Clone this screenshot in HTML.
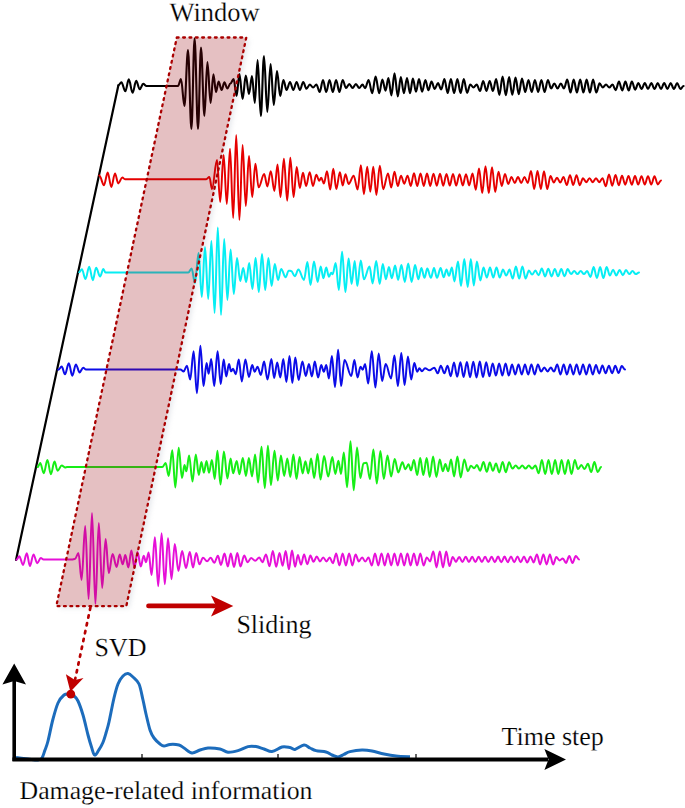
<!DOCTYPE html>
<html><head><meta charset="utf-8"><style>
html,body{margin:0;padding:0;background:#fff;}
body{width:685px;height:808px;overflow:hidden;}
svg{display:block;}
text{font-family:"Liberation Serif",serif;font-size:26px;fill:#000;text-rendering:geometricPrecision;stroke:#fff;stroke-width:0.2px;}
</style></head><body>
<svg width="685" height="808" viewBox="0 0 685 808">
<defs>
<filter id="blur" x="-20%" y="-5%" width="140%" height="110%"><feGaussianBlur stdDeviation="2.5"/></filter>
</defs>
<polygon points="176.8,37.5 246.3,37.5 126.3,606.2 56.3,606.2" fill="#a0a8b8" opacity="0.25" filter="url(#blur)" transform="translate(3,2)"/>
<polygon points="176.8,37.5 246.3,37.5 126.3,606.2 56.3,606.2" fill="#fff"/>
<line x1="16" y1="560" x2="118.4" y2="85.3" stroke="#000" stroke-width="2.2" stroke-linecap="round"/>
<path d="M118.4 85.3C119.5 85.3 120.3 82.3 121.4 82.3C122.8 82.3 123.9 91.3 125.3 91.3C126.6 91.3 127.5 79.4 128.8 79.4C130.2 79.4 131.2 92.8 132.6 92.8C133.9 92.8 134.9 80.9 136.2 80.9C137.5 80.9 138.4 89.3 139.7 89.3C141.0 89.3 141.9 83.8 143.2 83.8C144.4 83.8 145.3 86.0 146.5 86.0C146.5 86.0 146.5 86.0 146.5 86.0C158.0 86.0 166.5 86.0 178.0 86.0C178.0 86.0 178.0 86.0 178.0 86.0C179.1 86.0 179.9 79.0 181.0 79.0C182.2 79.0 183.2 106.0 184.4 106.0C185.7 106.0 186.7 50.0 188.0 50.0C189.2 50.0 190.2 129.0 191.4 129.0C192.6 129.0 193.4 38.4 194.6 38.4C195.8 38.4 196.8 129.0 198.0 129.0C199.1 129.0 199.9 47.6 201.0 47.6C202.2 47.6 203.2 116.0 204.4 116.0C205.5 116.0 206.3 62.0 207.4 62.0C208.6 62.0 209.4 103.0 210.6 103.0C211.6 103.0 212.4 74.4 213.4 74.4C214.3 74.4 215.1 92.0 216.0 92.0C216.9 92.0 217.7 81.6 218.6 81.6C219.7 81.6 220.5 90.0 221.6 90.0C222.6 90.0 223.4 82.4 224.4 82.4C225.5 82.4 226.3 88.5 227.4 88.5C228.5 88.5 229.3 83.5 230.4 83.5C231.6 83.5 232.4 79.0 233.6 79.0C234.7 79.0 235.5 96.0 236.6 96.0C237.6 96.0 238.4 74.0 239.4 74.0C240.6 74.0 241.4 99.0 242.6 99.0C243.8 99.0 244.6 75.6 245.8 75.6C247.0 75.6 247.8 94.0 249.0 94.0C250.1 94.0 250.9 76.0 252.0 76.0C253.0 76.0 253.8 103.0 254.8 103.0C255.8 103.0 256.6 60.0 257.6 60.0C258.8 60.0 259.6 116.0 260.8 116.0C262.0 116.0 262.8 56.0 264.0 56.0C265.2 56.0 266.1 112.0 267.3 112.0C268.5 112.0 269.4 64.0 270.6 64.0C271.8 64.0 272.6 105.0 273.8 105.0C275.0 105.0 275.8 71.0 277.0 71.0C278.2 71.0 279.0 96.0 280.2 96.0C281.4 96.0 282.2 80.0 283.4 80.0C284.6 80.0 285.4 90.0 286.6 90.0C287.8 90.0 288.8 82.0 290.0 82.0C291.2 82.0 292.1 90.0 293.3 90.0C294.5 90.0 295.4 82.0 296.6 82.0C297.8 82.0 298.7 90.0 299.9 90.0C301.1 90.0 302.0 82.0 303.2 82.0C304.4 82.0 305.3 88.8 306.5 88.8C307.7 88.8 308.6 84.5 309.8 84.5C311.0 84.5 311.9 87.5 313.1 87.5C314.3 87.5 315.2 84.5 316.4 84.5C317.6 84.5 318.5 92.0 319.7 92.0C320.9 92.0 321.8 80.0 323.0 80.0C324.2 80.0 325.0 92.0 326.2 92.0C327.5 92.0 328.3 80.0 329.5 80.0C330.7 80.0 331.6 92.0 332.8 92.0C334.0 92.0 334.9 80.0 336.1 80.0C337.3 80.0 338.2 92.0 339.4 92.0C340.6 92.0 341.5 80.0 342.7 80.0C343.9 80.0 344.8 88.0 346.0 88.0C347.2 88.0 348.1 84.0 349.3 84.0C350.5 84.0 351.4 88.0 352.6 88.0C353.8 88.0 354.7 84.0 355.9 84.0C357.1 84.0 358.0 88.0 359.2 88.0C360.4 88.0 361.3 84.6 362.5 84.6C363.4 84.6 364.2 88.2 365.1 88.2C366.4 88.2 367.3 80.0 368.6 80.0C369.9 80.0 370.9 93.3 372.2 93.3C373.4 93.3 374.4 76.5 375.6 76.5C376.9 76.5 377.9 93.3 379.2 93.3C380.4 93.3 381.2 79.5 382.4 79.5C383.5 79.5 384.4 90.8 385.5 90.8C386.6 90.8 387.3 78.0 388.4 78.0C389.5 78.0 390.3 95.4 391.4 95.4C392.5 95.4 393.4 73.4 394.5 73.4C395.7 73.4 396.6 96.4 397.8 96.4C398.9 96.4 399.7 77.0 400.8 77.0C401.9 77.0 402.8 93.3 403.9 93.3C405.0 93.3 405.9 78.0 407.0 78.0C408.1 78.0 408.9 93.3 410.0 93.3C411.1 93.3 411.8 78.5 412.9 78.5C414.0 78.5 414.9 91.8 416.0 91.8C417.1 91.8 417.9 79.0 419.0 79.0C420.1 79.0 421.0 91.8 422.1 91.8C423.3 91.8 424.2 80.0 425.4 80.0C426.5 80.0 427.3 90.3 428.4 90.3C429.5 90.3 430.4 81.6 431.5 81.6C432.7 81.6 433.6 89.0 434.7 89.0C435.9 89.0 436.8 83.0 438.0 83.0C439.1 83.0 440.0 89.4 441.2 89.4C442.4 89.4 443.3 79.0 444.4 79.0C445.6 79.0 446.5 93.0 447.7 93.0C448.8 93.0 449.7 79.0 450.9 79.0C452.1 79.0 452.9 93.0 454.1 93.0C455.3 93.0 456.2 79.0 457.4 79.0C458.5 79.0 459.4 93.0 460.6 93.0C461.8 93.0 462.6 79.0 463.8 79.0C465.0 79.0 465.9 92.9 467.1 92.9C468.2 92.9 469.1 84.5 470.3 84.5C471.5 84.5 472.3 87.5 473.5 87.5C474.7 87.5 475.6 84.5 476.7 84.5C477.9 84.5 478.8 91.0 480.0 91.0C481.2 91.0 482.0 81.0 483.2 81.0C484.4 81.0 485.3 91.0 486.4 91.0C487.6 91.0 488.5 81.0 489.7 81.0C490.9 81.0 491.7 91.0 492.9 91.0C494.1 91.0 495.0 79.0 496.1 79.0C497.3 79.0 498.2 94.9 499.4 94.9C500.6 94.9 501.4 76.6 502.6 76.6C503.8 76.6 504.7 95.3 505.8 95.3C507.0 95.3 507.9 77.0 509.1 77.0C510.2 77.0 511.1 94.7 512.3 94.7C513.5 94.7 514.4 77.5 515.5 77.5C516.7 77.5 517.6 94.2 518.8 94.2C519.9 94.2 520.8 78.5 522.0 78.5C523.2 78.5 524.1 92.0 525.2 92.0C526.4 92.0 527.3 80.0 528.5 80.0C529.6 80.0 530.5 92.0 531.7 92.0C532.9 92.0 533.7 80.0 534.9 80.0C536.1 80.0 537.0 92.0 538.2 92.0C539.3 92.0 540.2 80.0 541.4 80.0C542.6 80.0 543.4 92.0 544.6 92.0C545.8 92.0 546.7 80.0 547.9 80.0C549.0 80.0 549.9 88.5 551.1 88.5C552.3 88.5 553.1 83.5 554.3 83.5C555.5 83.5 556.4 88.5 557.6 88.5C558.7 88.5 559.6 83.5 560.8 83.5C562.0 83.5 562.8 88.5 564.0 88.5C565.2 88.5 566.1 79.5 567.2 79.5C568.4 79.5 569.3 92.5 570.5 92.5C571.7 92.5 572.5 79.5 573.7 79.5C574.9 79.5 575.8 92.5 576.9 92.5C578.1 92.5 579.0 79.5 580.2 79.5C581.4 79.5 582.2 92.5 583.4 92.5C584.6 92.5 585.5 79.5 586.6 79.5C587.8 79.5 588.7 92.5 589.9 92.5C591.0 92.5 591.9 79.5 593.1 79.5C594.3 79.5 595.2 92.5 596.3 92.5C597.5 92.5 598.4 83.4 599.6 83.4C600.7 83.4 601.6 87.5 602.8 87.5C604.0 87.5 604.9 84.5 606.0 84.5C607.2 84.5 608.1 87.5 609.3 87.5C610.4 87.5 611.3 84.5 612.5 84.5C613.7 84.5 614.5 90.1 615.7 90.1C616.9 90.1 617.8 81.5 619.0 81.5C620.1 81.5 621.0 90.5 622.2 90.5C623.4 90.5 624.2 81.5 625.4 81.5C626.6 81.5 627.5 90.5 628.7 90.5C629.8 90.5 630.7 81.5 631.9 81.5C633.1 81.5 633.9 89.7 635.1 89.7C636.3 89.7 637.2 83.0 638.4 83.0C639.5 83.0 640.4 89.0 641.6 89.0C642.8 89.0 643.6 83.0 644.8 83.0C646.0 83.0 646.9 89.0 648.0 89.0C649.2 89.0 650.1 83.0 651.3 83.0C652.5 83.0 653.3 89.0 654.5 89.0C655.7 89.0 656.6 83.0 657.7 83.0C658.9 83.0 659.8 89.0 661.0 89.0C662.2 89.0 663.0 83.0 664.2 83.0C665.4 83.0 666.3 89.0 667.4 89.0C668.6 89.0 669.5 83.0 670.7 83.0C671.8 83.0 672.7 89.0 673.9 89.0C675.1 89.0 676.0 83.0 677.1 83.0C678.3 83.0 679.2 89.0 680.4 89.0C681.5 89.0 682.4 86.0 683.6 86.0" stroke="#000000" stroke-width="2.10" fill="none" stroke-linejoin="round" stroke-linecap="round"/>
<path d="M99.3 175.5C101.0 175.5 102.3 185.2 104.0 185.2C105.3 185.2 106.4 172.4 107.7 172.4C109.0 172.4 110.0 187.0 111.3 187.0C112.6 187.0 113.7 173.5 115.0 173.5C116.2 173.5 117.1 183.4 118.3 183.4C119.8 183.4 120.8 177.5 122.3 177.5C123.3 177.5 124.0 179.2 125.0 179.2C126.2 179.2 127.1 179.2 128.2 179.2C129.4 179.2 130.3 179.2 131.5 179.2C132.7 179.2 133.6 179.2 134.7 179.2C135.9 179.2 136.8 179.2 138.0 179.2C139.2 179.2 140.0 179.2 141.2 179.2C142.4 179.2 143.3 179.2 144.5 179.2C145.7 179.2 146.5 179.2 147.7 179.2C148.9 179.2 149.8 179.2 151.0 179.2C152.2 179.2 153.0 179.2 154.2 179.2C155.4 179.2 156.3 179.2 157.5 179.2C158.6 179.2 159.5 179.2 160.7 179.2C161.9 179.2 162.8 179.2 164.0 179.2C165.1 179.2 166.0 179.2 167.2 179.2C168.4 179.2 169.3 179.2 170.4 179.2C171.6 179.2 172.5 179.2 173.7 179.2C174.9 179.2 175.8 179.2 176.9 179.2C178.1 179.2 179.0 179.2 180.2 179.2C181.4 179.2 182.2 179.2 183.4 179.2C184.6 179.2 185.5 179.2 186.7 179.2C187.9 179.2 188.7 179.2 189.9 179.2C191.1 179.2 192.0 179.2 193.2 179.2C194.4 179.2 195.2 179.2 196.4 179.2C197.6 179.2 198.5 179.2 199.7 179.2C200.8 179.2 201.7 179.2 202.9 179.2C204.1 179.2 205.0 179.2 206.2 179.2C207.3 179.2 208.2 177.0 209.4 177.0C210.3 177.0 211.1 189.0 212.0 189.0C213.8 189.0 215.2 160.0 217.0 160.0C218.2 160.0 219.0 202.0 220.2 202.0C221.4 202.0 222.4 155.0 223.6 155.0C224.8 155.0 225.6 204.0 226.8 204.0C228.0 204.0 228.8 148.6 230.0 148.6C231.2 148.6 232.0 218.0 233.2 218.0C234.3 218.0 235.1 135.0 236.2 135.0C237.4 135.0 238.2 220.0 239.4 220.0C240.6 220.0 241.4 145.0 242.6 145.0C243.8 145.0 244.6 206.0 245.8 206.0C247.0 206.0 247.8 156.0 249.0 156.0C250.2 156.0 251.0 197.0 252.2 197.0C253.4 197.0 254.2 163.8 255.4 163.8C256.6 163.8 257.4 187.3 258.6 187.3C260.6 187.3 262.2 174.0 264.2 174.0C265.3 174.0 266.2 186.4 267.3 186.4C268.6 186.4 269.5 171.1 270.8 171.1C272.1 171.1 273.1 191.0 274.4 191.0C275.5 191.0 276.4 164.4 277.5 164.4C278.6 164.4 279.4 197.1 280.5 197.1C281.7 197.1 282.7 158.8 283.9 158.8C285.1 158.8 286.0 200.7 287.2 200.7C288.3 200.7 289.2 157.8 290.3 157.8C291.5 157.8 292.4 197.1 293.6 197.1C294.7 197.1 295.6 167.0 296.7 167.0C297.8 167.0 298.7 187.9 299.8 187.9C301.0 187.9 301.8 172.7 303.0 172.7C304.1 172.7 305.0 186.0 306.1 186.0C307.4 186.0 308.4 172.2 309.7 172.2C310.9 172.2 311.8 186.0 313.0 186.0C314.2 186.0 315.1 174.7 316.3 174.7C317.4 174.7 318.1 180.7 319.2 180.7C319.9 180.7 320.5 177.8 321.2 177.8C322.2 177.8 322.9 183.4 323.9 183.4C325.0 183.4 325.9 171.2 327.0 171.2C328.2 171.2 329.0 189.5 330.2 189.5C331.3 189.5 332.2 168.6 333.3 168.6C334.4 168.6 335.2 189.1 336.3 189.1C337.6 189.1 338.6 172.3 339.9 172.3C340.9 172.3 341.7 185.6 342.7 185.6C343.7 185.6 344.5 174.3 345.5 174.3C346.6 174.3 347.5 184.0 348.6 184.0C350.5 184.0 351.8 175.8 353.7 175.8C355.1 175.8 356.2 189.6 357.6 189.6C358.8 189.6 359.7 165.1 360.9 165.1C362.0 165.1 362.8 194.2 363.9 194.2C365.1 194.2 366.0 166.7 367.2 166.7C368.3 166.7 369.2 191.8 370.3 191.8C371.4 191.8 372.2 166.8 373.3 166.8C374.4 166.8 375.3 194.9 376.4 194.9C377.6 194.9 378.6 165.7 379.8 165.7C381.0 165.7 382.0 189.2 383.2 189.2C384.9 189.2 386.3 173.4 388.0 173.4C389.2 173.4 390.1 187.6 391.2 187.6C392.4 187.6 393.3 171.6 394.5 171.6C395.7 171.6 396.6 186.1 397.8 186.1C398.9 186.1 399.8 175.6 401.0 175.6C402.2 175.6 403.1 183.7 404.2 183.7C405.4 183.7 406.3 175.7 407.5 175.7C408.7 175.7 409.6 185.9 410.8 185.9C411.9 185.9 412.8 173.2 414.0 173.2C415.2 173.2 416.1 186.1 417.2 186.1C418.4 186.1 419.3 173.4 420.5 173.4C421.7 173.4 422.6 186.0 423.8 186.0C424.9 186.0 425.8 173.5 427.0 173.5C428.2 173.5 429.1 185.9 430.2 185.9C431.4 185.9 432.3 173.6 433.5 173.6C434.7 173.6 435.6 185.8 436.8 185.8C437.9 185.8 438.8 173.7 440.0 173.7C441.2 173.7 442.1 185.7 443.2 185.7C444.4 185.7 445.3 173.9 446.5 173.9C447.7 173.9 448.6 185.6 449.8 185.6C450.9 185.6 451.8 174.0 453.0 174.0C454.2 174.0 455.1 185.6 456.2 185.6C457.4 185.6 458.3 174.1 459.5 174.1C460.7 174.1 461.6 185.5 462.8 185.5C463.9 185.5 464.8 174.2 466.0 174.2C467.2 174.2 468.1 185.4 469.2 185.4C470.4 185.4 471.3 173.5 472.5 173.5C473.7 173.5 474.6 189.7 475.8 189.7C476.9 189.7 477.8 168.4 479.0 168.4C480.2 168.4 481.1 193.0 482.2 193.0C483.4 193.0 484.3 166.1 485.5 166.1C486.7 166.1 487.6 193.1 488.8 193.1C489.9 193.1 490.8 167.2 492.0 167.2C493.2 167.2 494.1 192.0 495.2 192.0C496.4 192.0 497.3 171.7 498.5 171.7C499.7 171.7 500.6 185.9 501.8 185.9C502.9 185.9 503.8 173.9 505.0 173.9C506.2 173.9 507.1 184.1 508.2 184.1C509.4 184.1 510.3 177.0 511.5 177.0C512.7 177.0 513.6 183.0 514.8 183.0C515.9 183.0 516.8 177.0 518.0 177.0C519.2 177.0 520.1 183.0 521.2 183.0C522.4 183.0 523.3 177.0 524.5 177.0C525.7 177.0 526.6 183.0 527.8 183.0C528.9 183.0 529.8 171.0 531.0 171.0C532.2 171.0 533.1 189.0 534.2 189.0C535.4 189.0 536.3 171.0 537.5 171.0C538.7 171.0 539.6 189.0 540.8 189.0C541.9 189.0 542.8 171.1 544.0 171.1C545.2 171.1 546.1 189.1 547.2 189.1C548.4 189.1 549.3 176.0 550.5 176.0C551.7 176.0 552.6 182.6 553.8 182.6C554.9 182.6 555.8 177.6 557.0 177.6C558.2 177.6 559.1 182.6 560.2 182.6C561.4 182.6 562.3 177.0 563.5 177.0C564.7 177.0 565.6 185.1 566.8 185.1C567.9 185.1 568.8 175.1 570.0 175.1C571.2 175.1 572.1 185.1 573.2 185.1C574.4 185.1 575.3 175.2 576.5 175.2C577.7 175.2 578.6 185.2 579.8 185.2C580.9 185.2 581.8 178.2 583.0 178.2C584.2 178.2 585.1 182.2 586.2 182.2C587.4 182.2 588.3 178.2 589.5 178.2C590.7 178.2 591.6 182.2 592.8 182.2C593.9 182.2 594.8 178.2 596.0 178.2C597.2 178.2 598.1 182.2 599.2 182.2C600.4 182.2 601.3 178.2 602.5 178.2C603.7 178.2 604.6 186.2 605.8 186.2C606.9 186.2 607.8 174.5 609.0 174.5C610.2 174.5 611.1 185.7 612.2 185.7C613.4 185.7 614.3 175.0 615.5 175.0C616.7 175.0 617.6 185.3 618.8 185.3C619.9 185.3 620.8 175.8 622.0 175.8C623.2 175.8 624.1 184.7 625.2 184.7C626.4 184.7 627.3 175.9 628.5 175.9C629.7 175.9 630.6 184.7 631.8 184.7C632.9 184.7 633.8 176.0 635.0 176.0C636.2 176.0 637.1 184.6 638.2 184.6C639.4 184.6 640.3 176.1 641.5 176.1C642.7 176.1 643.6 184.6 644.8 184.6C645.9 184.6 646.8 176.2 648.0 176.2C649.2 176.2 650.1 184.5 651.2 184.5C652.4 184.5 653.3 176.3 654.5 176.3C655.7 176.3 656.6 184.4 657.8 184.4C658.9 184.4 659.8 180.4 661.0 180.4" stroke="#e60000" stroke-width="1.95" fill="none" stroke-linejoin="round" stroke-linecap="round"/>
<path d="M79.2 272.2C80.2 272.2 80.9 269.2 81.9 269.2C83.2 269.2 84.2 279.1 85.5 279.1C86.8 279.1 87.9 266.7 89.2 266.7C90.5 266.7 91.5 280.2 92.8 280.2C94.0 280.2 94.9 267.8 96.1 267.8C97.6 267.8 98.6 276.4 100.1 276.4C101.3 276.4 102.2 268.9 103.4 268.9C104.2 268.9 104.7 272.6 105.5 272.6C106.7 272.6 107.6 272.6 108.8 272.6C110.0 272.6 110.9 272.6 112.1 272.6C113.3 272.6 114.2 272.6 115.4 272.6C116.6 272.6 117.5 272.6 118.7 272.6C120.0 272.6 120.9 272.6 122.1 272.6C123.3 272.6 124.2 272.6 125.4 272.6C126.6 272.6 127.5 272.6 128.7 272.6C129.9 272.6 130.8 272.6 132.0 272.6C133.2 272.6 134.1 272.6 135.3 272.6C136.5 272.6 137.4 272.6 138.6 272.6C139.8 272.6 140.7 272.6 141.9 272.6C143.1 272.6 144.0 272.6 145.2 272.6C146.4 272.6 147.3 272.6 148.6 272.6C149.8 272.6 150.7 272.6 151.9 272.6C153.1 272.6 154.0 272.6 155.2 272.6C156.4 272.6 157.3 272.6 158.5 272.6C159.7 272.6 160.6 272.6 161.8 272.6C163.0 272.6 163.9 272.6 165.1 272.6C166.3 272.6 167.2 272.6 168.4 272.6C169.6 272.6 170.5 272.6 171.7 272.6C172.9 272.6 173.8 272.6 175.0 272.6C176.2 272.6 177.1 272.6 178.4 272.6C179.6 272.6 180.5 272.6 181.7 272.6C182.9 272.6 183.8 272.6 185.0 272.6C186.2 272.6 187.1 272.6 188.3 272.6C189.5 272.6 190.4 268.5 191.6 268.5C192.8 268.5 193.8 283.0 195.0 283.0C196.3 283.0 197.3 253.0 198.6 253.0C199.8 253.0 200.6 297.0 201.8 297.0C203.0 297.0 203.8 247.0 205.0 247.0C206.2 247.0 207.0 299.0 208.2 299.0C209.4 299.0 210.2 241.0 211.4 241.0C212.6 241.0 213.4 313.0 214.6 313.0C215.8 313.0 216.6 227.6 217.8 227.6C219.0 227.6 219.8 315.0 221.0 315.0C222.2 315.0 223.0 239.0 224.2 239.0C225.4 239.0 226.2 300.0 227.4 300.0C228.6 300.0 229.4 249.6 230.6 249.6C231.8 249.6 232.6 294.0 233.8 294.0C235.0 294.0 235.8 258.0 237.0 258.0C238.2 258.0 239.0 281.0 240.2 281.0C241.3 281.0 242.1 268.0 243.2 268.0C244.3 268.0 245.1 282.0 246.2 282.0C247.3 282.0 248.1 263.0 249.2 263.0C250.4 263.0 251.2 289.0 252.4 289.0C253.6 289.0 254.4 258.0 255.6 258.0C256.8 258.0 257.6 292.0 258.8 292.0C260.0 292.0 260.8 254.0 262.0 254.0C263.2 254.0 264.0 290.0 265.2 290.0C266.4 290.0 267.2 258.0 268.4 258.0C269.6 258.0 270.4 286.0 271.6 286.0C272.8 286.0 273.6 264.0 274.8 264.0C276.0 264.0 276.8 280.0 278.0 280.0C279.2 280.0 280.0 269.0 281.2 269.0C282.8 269.0 284.0 277.3 285.6 277.3C286.7 277.3 287.6 270.7 288.7 270.7C289.6 270.7 290.3 271.0 291.2 271.0C292.5 271.0 293.5 276.3 294.8 276.3C296.1 276.3 297.1 269.6 298.4 269.6C300.4 269.6 302.0 279.9 304.0 279.9C305.2 279.9 306.2 262.0 307.4 262.0C308.5 262.0 309.4 285.0 310.5 285.0C311.8 285.0 312.7 261.5 314.0 261.5C315.3 261.5 316.3 281.9 317.6 281.9C318.7 281.9 319.6 266.6 320.7 266.6C321.7 266.6 322.4 278.3 323.4 278.3C324.4 278.3 325.2 267.6 326.2 267.6C327.2 267.6 328.0 276.8 329.0 276.8C329.8 276.8 330.3 272.7 331.1 272.7C331.6 272.7 332.1 274.2 332.6 274.2C333.7 274.2 334.6 263.0 335.7 263.0C336.8 263.0 337.7 290.1 338.8 290.1C340.0 290.1 340.9 251.8 342.1 251.8C343.3 251.8 344.2 292.1 345.4 292.1C346.6 292.1 347.4 258.4 348.6 258.4C349.7 258.4 350.5 283.9 351.6 283.9C352.7 283.9 353.6 261.0 354.7 261.0C355.6 261.0 356.4 286.0 357.3 286.0C358.6 286.0 359.5 260.4 360.8 260.4C361.9 260.4 362.8 279.3 363.9 279.3C365.9 279.3 367.5 266.6 369.5 266.6C370.6 266.6 371.5 283.4 372.6 283.4C373.9 283.4 374.9 261.0 376.2 261.0C377.5 261.0 378.4 283.9 379.7 283.9C380.8 283.9 381.7 264.0 382.8 264.0C383.9 264.0 384.8 279.3 385.9 279.3C387.0 279.3 387.8 267.1 388.9 267.1C390.0 267.1 390.7 278.3 391.8 278.3C393.0 278.3 393.9 265.5 395.1 265.5C396.2 265.5 397.0 279.9 398.1 279.9C399.3 279.9 400.2 265.0 401.4 265.0C402.6 265.0 403.6 281.9 404.8 281.9C406.0 281.9 407.0 263.5 408.2 263.5C409.4 263.5 410.4 281.9 411.6 281.9C412.9 281.9 413.8 265.0 415.1 265.0C416.3 265.0 417.1 279.3 418.3 279.3C419.4 279.3 420.3 268.1 421.4 268.1C422.5 268.1 423.4 277.8 424.5 277.8C425.5 277.8 426.3 268.6 427.3 268.6C428.6 268.6 429.6 277.8 430.9 277.8C432.0 277.8 432.9 268.1 434.0 268.1C435.1 268.1 435.9 277.8 437.0 277.8C438.3 277.8 439.3 268.1 440.6 268.1C441.7 268.1 442.6 277.3 443.7 277.3C444.7 277.3 445.5 269.6 446.5 269.6C447.4 269.6 448.1 275.8 449.0 275.8C450.1 275.8 450.8 267.6 451.9 267.6C452.8 267.6 453.5 281.4 454.4 281.4C455.7 281.4 456.7 261.5 458.0 261.5C459.1 261.5 459.9 286.0 461.0 286.0C462.2 286.0 463.1 258.9 464.3 258.9C465.5 258.9 466.5 287.0 467.7 287.0C468.8 287.0 469.7 258.9 470.8 258.9C471.9 258.9 472.7 285.5 473.8 285.5C474.9 285.5 475.8 261.5 476.9 261.5C478.1 261.5 479.1 280.4 480.3 280.4C481.5 280.4 482.4 267.6 483.5 267.6C484.7 267.6 485.6 277.6 486.8 277.6C488.0 277.6 488.8 267.6 490.0 267.6C491.2 267.6 492.1 277.6 493.3 277.6C494.4 277.6 495.3 267.6 496.5 267.6C497.7 267.6 498.6 277.6 499.7 277.6C500.9 277.6 501.8 269.6 503.0 269.6C504.2 269.6 505.0 275.6 506.2 275.6C507.4 275.6 508.3 269.6 509.4 269.6C510.6 269.6 511.5 278.6 512.7 278.6C513.9 278.6 514.7 266.6 515.9 266.6C517.1 266.6 518.0 278.6 519.2 278.6C520.3 278.6 521.2 266.6 522.4 266.6C523.6 266.6 524.5 278.6 525.6 278.6C526.8 278.6 527.7 270.6 528.9 270.6C530.1 270.6 530.9 274.6 532.1 274.6C533.3 274.6 534.2 270.6 535.4 270.6C536.5 270.6 537.4 275.2 538.6 275.2C539.8 275.2 540.7 268.6 541.8 268.6C543.0 268.6 543.9 276.5 545.1 276.5C546.3 276.5 547.1 268.7 548.3 268.7C549.5 268.7 550.4 276.4 551.6 276.4C552.7 276.4 553.6 268.9 554.8 268.9C556.0 268.9 556.9 276.3 558.0 276.3C559.2 276.3 560.1 269.0 561.3 269.0C562.4 269.0 563.3 276.2 564.5 276.2C565.7 276.2 566.6 269.1 567.7 269.1C568.9 269.1 569.8 274.1 571.0 274.1C572.2 274.1 573.0 271.1 574.2 271.1C575.4 271.1 576.3 274.1 577.5 274.1C578.6 274.1 579.5 271.1 580.7 271.1C581.9 271.1 582.8 274.1 583.9 274.1C585.1 274.1 586.0 271.1 587.2 271.1C588.4 271.1 589.2 276.9 590.4 276.9C591.6 276.9 592.5 267.1 593.7 267.1C594.8 267.1 595.7 278.1 596.9 278.1C598.1 278.1 599.0 267.1 600.1 267.1C601.3 267.1 602.2 278.1 603.4 278.1C604.6 278.1 605.4 267.1 606.6 267.1C607.8 267.1 608.7 275.6 609.9 275.6C611.0 275.6 611.9 269.7 613.1 269.7C614.3 269.7 615.1 275.4 616.3 275.4C617.5 275.4 618.4 269.9 619.6 269.9C620.7 269.9 621.6 275.2 622.8 275.2C624.0 275.2 624.9 270.1 626.0 270.1C627.2 270.1 628.1 274.1 629.3 274.1C630.5 274.1 631.3 271.1 632.5 271.1C633.7 271.1 634.6 274.1 635.8 274.1C636.9 274.1 637.8 272.6 639.0 272.6" stroke="#06eef3" stroke-width="2.00" fill="none" stroke-linejoin="round" stroke-linecap="round"/>
<path d="M58.2 369.8C59.5 369.8 60.4 366.6 61.7 366.6C62.9 366.6 63.8 374.3 65.0 374.3C66.4 374.3 67.4 363.3 68.8 363.3C70.1 363.3 71.0 375.7 72.3 375.7C73.6 375.7 74.6 364.4 75.9 364.4C77.2 364.4 78.3 372.4 79.6 372.4C80.9 372.4 81.9 367.7 83.2 367.7C84.2 367.7 85.0 369.5 86.0 369.5C87.2 369.5 88.1 369.5 89.3 369.5C90.4 369.5 91.3 369.5 92.5 369.5C93.7 369.5 94.6 369.5 95.8 369.5C96.9 369.5 97.8 369.5 99.0 369.5C100.2 369.5 101.1 369.5 102.3 369.5C103.5 369.5 104.3 369.5 105.5 369.5C106.7 369.5 107.6 369.5 108.8 369.5C110.0 369.5 110.9 369.5 112.0 369.5C113.2 369.5 114.1 369.5 115.3 369.5C116.5 369.5 117.4 369.5 118.5 369.5C119.7 369.5 120.6 369.5 121.8 369.5C123.0 369.5 123.9 369.5 125.1 369.5C126.2 369.5 127.1 369.5 128.3 369.5C129.5 369.5 130.4 369.5 131.6 369.5C132.8 369.5 133.6 369.5 134.8 369.5C136.0 369.5 136.9 369.5 138.1 369.5C139.3 369.5 140.1 369.5 141.3 369.5C142.5 369.5 143.4 369.5 144.6 369.5C145.8 369.5 146.7 369.5 147.8 369.5C149.0 369.5 149.9 369.5 151.1 369.5C152.3 369.5 153.2 369.5 154.4 369.5C155.5 369.5 156.4 369.5 157.6 369.5C158.8 369.5 159.7 369.5 160.9 369.5C162.0 369.5 162.9 369.5 164.1 369.5C165.3 369.5 166.2 369.5 167.4 369.5C168.6 369.5 169.4 369.5 170.6 369.5C171.8 369.5 172.7 369.5 173.9 369.5C175.1 369.5 176.0 369.5 177.1 369.5C178.3 369.5 179.2 369.5 180.4 369.5C181.6 369.5 182.5 371.4 183.6 371.4C184.8 371.4 185.7 365.7 186.9 365.7C188.1 365.7 189.0 379.5 190.2 379.5C191.4 379.5 192.4 351.3 193.6 351.3C194.8 351.3 195.7 393.2 196.9 393.2C198.2 393.2 199.1 345.7 200.4 345.7C201.5 345.7 202.4 386.1 203.5 386.1C204.6 386.1 205.5 363.1 206.6 363.1C207.3 363.1 207.9 373.8 208.6 373.8C209.5 373.8 210.3 359.0 211.2 359.0C212.3 359.0 213.1 386.1 214.2 386.1C215.4 386.1 216.4 351.3 217.6 351.3C218.7 351.3 219.6 384.0 220.7 384.0C221.8 384.0 222.6 359.5 223.7 359.5C224.6 359.5 225.3 376.4 226.2 376.4C227.2 376.4 228.0 364.1 229.0 364.1C229.8 364.1 230.3 371.3 231.1 371.3C231.8 371.3 232.4 368.7 233.1 368.7C234.0 368.7 234.8 374.3 235.7 374.3C236.8 374.3 237.7 359.5 238.8 359.5C239.9 359.5 240.7 381.5 241.8 381.5C243.1 381.5 244.1 359.5 245.4 359.5C246.7 359.5 247.6 376.9 248.9 376.9C250.1 376.9 251.0 365.1 252.2 365.1C253.1 365.1 253.8 371.8 254.7 371.8C255.7 371.8 256.5 366.7 257.5 366.7C258.7 366.7 259.6 374.9 260.8 374.9C262.0 374.9 262.9 361.6 264.1 361.6C265.3 361.6 266.3 379.5 267.5 379.5C268.9 379.5 270.0 359.0 271.4 359.0C272.4 359.0 273.1 377.9 274.1 377.9C275.2 377.9 276.1 362.6 277.2 362.6C278.3 362.6 279.2 377.4 280.3 377.4C281.4 377.4 282.2 359.0 283.3 359.0C284.4 359.0 285.3 382.0 286.4 382.0C287.5 382.0 288.4 356.0 289.5 356.0C290.5 356.0 291.3 383.0 292.3 383.0C293.4 383.0 294.2 357.5 295.3 357.5C296.5 357.5 297.4 380.0 298.6 380.0C300.0 380.0 301.0 361.6 302.4 361.6C303.6 361.6 304.6 375.9 305.8 375.9C306.9 375.9 307.8 364.1 308.9 364.1C310.0 364.1 310.8 376.4 311.9 376.4C313.0 376.4 313.7 361.6 314.8 361.6C316.0 361.6 316.9 377.4 318.1 377.4C319.2 377.4 320.1 365.1 321.2 365.1C322.1 365.1 322.9 371.8 323.8 371.8C324.7 371.8 325.4 365.1 326.3 365.1C327.2 365.1 328.0 378.4 328.9 378.4C330.0 378.4 330.8 356.0 331.9 356.0C333.0 356.0 333.9 387.1 335.0 387.1C336.1 387.1 337.0 349.8 338.1 349.8C339.2 349.8 340.0 386.1 341.1 386.1C342.3 386.1 343.3 360.0 344.5 360.0C347.0 360.0 348.8 375.9 351.3 375.9C352.4 375.9 353.3 360.0 354.4 360.0C355.5 360.0 356.4 377.4 357.5 377.4C358.6 377.4 359.4 366.7 360.5 366.7C361.3 366.7 361.8 369.7 362.6 369.7C363.5 369.7 364.2 364.1 365.1 364.1C366.2 364.1 367.1 383.5 368.2 383.5C369.5 383.5 370.5 351.3 371.8 351.3C373.1 351.3 374.1 387.6 375.4 387.6C376.6 387.6 377.5 353.4 378.7 353.4C379.9 353.4 380.9 381.0 382.1 381.0C383.4 381.0 384.4 364.1 385.7 364.1C387.7 364.1 389.1 378.4 391.1 378.4C392.3 378.4 393.2 355.4 394.4 355.4C395.7 355.4 396.6 386.1 397.9 386.1C399.1 386.1 400.1 352.9 401.3 352.9C402.5 352.9 403.4 385.1 404.6 385.1C405.8 385.1 406.7 356.5 407.9 356.5C409.1 356.5 410.0 379.5 411.2 379.5C412.3 379.5 413.2 363.1 414.3 363.1C415.4 363.1 416.2 371.8 417.3 371.8C418.1 371.8 418.6 368.2 419.4 368.2C420.3 368.2 421.0 371.3 421.9 371.3C423.0 371.3 423.9 368.2 425.0 368.2C426.6 368.2 427.9 370.3 429.5 370.3C431.2 370.3 432.5 367.7 434.2 367.7C435.5 367.7 436.5 373.3 437.8 373.3C438.9 373.3 439.7 365.7 440.8 365.7C442.1 365.7 443.1 373.3 444.4 373.3C445.5 373.3 446.4 365.7 447.5 365.7C448.7 365.7 449.6 376.2 450.7 376.2C451.9 376.2 452.8 362.4 454.0 362.4C455.1 362.4 456.0 376.7 457.2 376.7C458.4 376.7 459.2 362.2 460.4 362.2C461.6 362.2 462.5 377.0 463.6 377.0C464.8 377.0 465.7 361.9 466.9 361.9C468.0 361.9 468.9 377.2 470.1 377.2C471.3 377.2 472.1 361.7 473.3 361.7C474.5 361.7 475.4 377.4 476.5 377.4C477.7 377.4 478.6 361.6 479.8 361.6C480.9 361.6 481.8 377.1 483.0 377.1C484.2 377.1 485.1 362.2 486.2 362.2C487.4 362.2 488.3 376.3 489.5 376.3C490.6 376.3 491.5 363.5 492.7 363.5C493.9 363.5 494.7 375.5 495.9 375.5C497.1 375.5 498.0 363.5 499.1 363.5C500.3 363.5 501.2 375.5 502.4 375.5C503.5 375.5 504.4 363.5 505.6 363.5C506.8 363.5 507.6 375.5 508.8 375.5C510.0 375.5 510.9 364.5 512.0 364.5C513.2 364.5 514.1 374.5 515.3 374.5C516.4 374.5 517.3 364.5 518.5 364.5C519.7 364.5 520.6 374.5 521.7 374.5C522.9 374.5 523.8 364.5 525.0 364.5C526.1 364.5 527.0 374.5 528.2 374.5C529.4 374.5 530.2 364.5 531.4 364.5C532.6 364.5 533.5 374.5 534.6 374.5C535.8 374.5 536.7 364.5 537.9 364.5C539.0 364.5 539.9 371.5 541.1 371.5C542.3 371.5 543.1 367.5 544.3 367.5C545.5 367.5 546.4 371.5 547.5 371.5C548.7 371.5 549.6 367.5 550.8 367.5C551.9 367.5 552.8 371.5 554.0 371.5C555.2 371.5 556.1 364.5 557.2 364.5C558.4 364.5 559.3 374.5 560.5 374.5C561.6 374.5 562.5 364.5 563.7 364.5C564.9 364.5 565.7 374.5 566.9 374.5C568.1 374.5 569.0 364.5 570.1 364.5C571.3 364.5 572.2 374.5 573.4 374.5C574.5 374.5 575.4 364.5 576.6 364.5C577.8 364.5 578.6 374.5 579.8 374.5C581.0 374.5 581.9 364.5 583.0 364.5C584.2 364.5 585.1 374.5 586.3 374.5C587.4 374.5 588.3 364.5 589.5 364.5C590.7 364.5 591.6 374.5 592.7 374.5C593.9 374.5 594.8 365.0 596.0 365.0C597.1 365.0 598.0 373.5 599.2 373.5C600.4 373.5 601.2 365.6 602.4 365.6C603.6 365.6 604.5 373.3 605.6 373.3C606.8 373.3 607.7 365.7 608.9 365.7C610.0 365.7 610.9 373.2 612.1 373.2C613.3 373.2 614.1 365.8 615.3 365.8C616.5 365.8 617.4 373.1 618.5 373.1C619.7 373.1 620.6 365.9 621.8 365.9C622.9 365.9 623.8 369.5 625.0 369.5" stroke="#0c0ce8" stroke-width="2.00" fill="none" stroke-linejoin="round" stroke-linecap="round"/>
<path d="M37.6 467.1C38.5 467.1 39.3 463.0 40.2 463.0C41.5 463.0 42.5 473.2 43.8 473.2C45.1 473.2 46.1 459.9 47.4 459.9C48.7 459.9 49.6 474.2 50.9 474.2C52.2 474.2 53.2 461.5 54.5 461.5C55.6 461.5 56.5 470.7 57.6 470.7C59.1 470.7 60.2 465.5 61.7 465.5C63.0 465.5 64.0 467.4 65.3 467.4C65.9 467.4 66.4 467.1 67.0 467.1C68.2 467.1 69.1 467.1 70.3 467.1C71.5 467.1 72.4 467.1 73.6 467.1C74.8 467.1 75.7 467.1 76.9 467.1C78.1 467.1 78.9 467.1 80.1 467.1C81.3 467.1 82.2 467.1 83.4 467.1C84.6 467.1 85.5 467.1 86.7 467.1C87.9 467.1 88.8 467.1 90.0 467.1C91.2 467.1 92.1 467.1 93.3 467.1C94.5 467.1 95.4 467.1 96.6 467.1C97.8 467.1 98.7 467.1 99.9 467.1C101.1 467.1 102.0 467.1 103.2 467.1C104.4 467.1 105.2 467.1 106.4 467.1C107.6 467.1 108.5 467.1 109.7 467.1C110.9 467.1 111.8 467.1 113.0 467.1C114.2 467.1 115.1 467.1 116.3 467.1C117.5 467.1 118.4 467.1 119.6 467.1C120.8 467.1 121.7 467.1 122.9 467.1C124.1 467.1 125.0 467.1 126.2 467.1C127.4 467.1 128.2 467.1 129.4 467.1C130.6 467.1 131.5 467.1 132.7 467.1C133.9 467.1 134.8 467.1 136.0 467.1C137.2 467.1 138.1 467.1 139.3 467.1C140.5 467.1 141.4 467.1 142.6 467.1C143.8 467.1 144.7 467.1 145.9 467.1C147.1 467.1 148.0 467.1 149.2 467.1C150.4 467.1 151.3 467.1 152.5 467.1C153.7 467.1 154.5 467.1 155.7 467.1C156.9 467.1 157.8 467.1 159.0 467.1C160.2 467.1 161.1 467.1 162.3 467.1C163.5 467.1 164.4 463.1 165.6 463.1C166.7 463.1 167.6 475.9 168.7 475.9C170.0 475.9 171.0 450.3 172.3 450.3C173.4 450.3 174.2 487.6 175.3 487.6C176.5 487.6 177.5 447.8 178.7 447.8C179.9 447.8 180.8 477.9 182.0 477.9C182.9 477.9 183.6 465.1 184.5 465.1C185.2 465.1 185.7 471.3 186.4 471.3C187.4 471.3 188.1 455.4 189.1 455.4C190.3 455.4 191.3 481.5 192.5 481.5C193.7 481.5 194.6 454.4 195.8 454.4C196.9 454.4 197.7 474.9 198.8 474.9C199.7 474.9 200.5 462.1 201.4 462.1C202.3 462.1 203.0 472.8 203.9 472.8C204.8 472.8 205.6 461.1 206.5 461.1C207.4 461.1 208.1 472.8 209.0 472.8C210.1 472.8 210.8 460.0 211.9 460.0C212.9 460.0 213.7 478.9 214.7 478.9C215.7 478.9 216.4 450.8 217.4 450.8C218.5 450.8 219.4 484.6 220.5 484.6C221.7 484.6 222.7 451.4 223.9 451.4C225.2 451.4 226.1 478.4 227.4 478.4C228.6 478.4 229.4 458.5 230.6 458.5C231.5 458.5 232.2 473.3 233.1 473.3C234.4 473.3 235.4 461.1 236.7 461.1C237.7 461.1 238.4 474.3 239.4 474.3C240.6 474.3 241.6 458.0 242.8 458.0C243.9 458.0 244.8 475.9 245.9 475.9C247.0 475.9 247.8 458.0 248.9 458.0C250.0 458.0 250.9 476.4 252.0 476.4C253.1 476.4 254.0 454.4 255.1 454.4C256.2 454.4 257.0 482.5 258.1 482.5C259.3 482.5 260.3 446.8 261.5 446.8C262.7 446.8 263.6 488.1 264.8 488.1C265.9 488.1 266.8 445.7 267.9 445.7C269.0 445.7 269.8 485.1 270.9 485.1C272.2 485.1 273.2 450.8 274.5 450.8C275.7 450.8 276.6 480.5 277.8 480.5C278.9 480.5 279.8 455.4 280.9 455.4C282.1 455.4 283.0 475.9 284.2 475.9C285.3 475.9 286.2 458.5 287.3 458.5C288.4 458.5 289.2 476.9 290.3 476.9C291.4 476.9 292.3 454.4 293.4 454.4C294.5 454.4 295.4 479.0 296.5 479.0C297.6 479.0 298.5 457.1 299.6 457.1C300.7 457.1 301.5 473.4 302.6 473.4C303.6 473.4 304.4 461.2 305.4 461.2C306.5 461.2 307.2 473.4 308.3 473.4C309.3 473.4 310.1 458.6 311.1 458.6C312.2 458.6 313.1 478.0 314.2 478.0C315.4 478.0 316.3 454.0 317.5 454.0C318.6 454.0 319.4 479.6 320.5 479.6C321.8 479.6 322.8 456.1 324.1 456.1C325.6 456.1 326.7 476.5 328.2 476.5C329.7 476.5 330.8 457.1 332.3 457.1C333.4 457.1 334.2 473.9 335.3 473.9C336.4 473.9 337.3 460.7 338.4 460.7C339.3 460.7 340.1 473.9 341.0 473.9C342.0 473.9 342.8 452.5 343.8 452.5C345.0 452.5 345.9 487.2 347.1 487.2C348.3 487.2 349.3 441.2 350.5 441.2C351.7 441.2 352.5 490.3 353.7 490.3C354.9 490.3 355.8 447.4 357.0 447.4C358.2 447.4 359.2 478.0 360.4 478.0C361.5 478.0 362.4 463.2 363.5 463.2C364.6 463.2 365.5 462.7 366.6 462.7C367.8 462.7 368.8 479.0 370.0 479.0C371.2 479.0 372.2 449.4 373.4 449.4C374.6 449.4 375.6 483.6 376.8 483.6C378.1 483.6 379.1 451.0 380.4 451.0C381.6 451.0 382.6 479.0 383.8 479.0C385.1 479.0 386.2 455.5 387.5 455.5C388.8 455.5 389.8 476.5 391.1 476.5C392.4 476.5 393.4 459.1 394.7 459.1C396.0 459.1 397.0 472.4 398.3 472.4C399.8 472.4 400.9 462.2 402.4 462.2C403.5 462.2 404.3 469.3 405.4 469.3C406.5 469.3 407.4 464.2 408.5 464.2C409.4 464.2 410.1 470.4 411.0 470.4C412.1 470.4 412.8 460.1 413.9 460.1C415.1 460.1 416.0 475.0 417.2 475.0C418.3 475.0 419.1 458.1 420.2 458.1C421.3 458.1 422.2 475.0 423.3 475.0C424.5 475.0 425.5 458.1 426.7 458.1C427.8 458.1 428.6 476.9 429.7 476.9C430.9 476.9 431.9 456.5 433.1 456.5C434.3 456.5 435.2 476.9 436.4 476.9C437.6 476.9 438.6 459.5 439.8 459.5C440.9 459.5 441.7 471.3 442.8 471.3C443.7 471.3 444.5 464.1 445.4 464.1C446.4 464.1 447.2 471.3 448.2 471.3C449.2 471.3 450.0 459.5 451.0 459.5C452.1 459.5 453.0 476.4 454.1 476.4C455.3 476.4 456.2 456.5 457.4 456.5C458.6 456.5 459.5 477.4 460.7 477.4C462.0 477.4 463.0 459.5 464.3 459.5C465.6 459.5 466.6 471.3 467.9 471.3C469.0 471.3 469.8 465.7 470.9 465.7C472.0 465.7 472.9 468.2 474.0 468.2C475.1 468.2 475.9 465.1 477.0 465.1C478.1 465.1 479.0 470.8 480.1 470.8C481.3 470.8 482.3 462.1 483.5 462.1C484.7 462.1 485.6 471.8 486.8 471.8C487.9 471.8 488.7 462.6 489.8 462.6C490.9 462.6 491.8 470.8 492.9 470.8C494.0 470.8 494.9 463.6 496.0 463.6C497.2 463.6 498.1 472.4 499.3 472.4C500.5 472.4 501.4 461.9 502.6 461.9C503.8 461.9 504.6 472.2 505.8 472.2C507.0 472.2 507.9 462.3 509.1 462.3C510.3 462.3 511.2 468.6 512.4 468.6C513.6 468.6 514.5 465.6 515.7 465.6C516.9 465.6 517.8 468.6 519.0 468.6C520.2 468.6 521.1 465.6 522.2 465.6C523.4 465.6 524.3 468.6 525.5 468.6C526.7 468.6 527.6 465.6 528.8 465.6C530.0 465.6 530.9 468.6 532.1 468.6C533.3 468.6 534.2 465.6 535.4 465.6C536.6 465.6 537.5 473.2 538.7 473.2C539.9 473.2 540.7 460.1 541.9 460.1C543.1 460.1 544.0 474.1 545.2 474.1C546.4 474.1 547.3 460.1 548.5 460.1C549.7 460.1 550.6 474.1 551.8 474.1C553.0 474.1 553.9 460.1 555.1 460.1C556.3 460.1 557.1 474.1 558.3 474.1C559.5 474.1 560.4 460.1 561.6 460.1C562.8 460.1 563.7 474.1 564.9 474.1C566.1 474.1 567.0 460.1 568.2 460.1C569.4 460.1 570.3 474.1 571.5 474.1C572.7 474.1 573.6 460.1 574.8 460.1C575.9 460.1 576.8 469.1 578.0 469.1C579.2 469.1 580.1 465.1 581.3 465.1C582.5 465.1 583.4 469.1 584.6 469.1C585.8 469.1 586.7 463.8 587.9 463.8C589.1 463.8 590.0 472.1 591.2 472.1C592.4 472.1 593.2 462.1 594.4 462.1C595.6 462.1 596.5 472.1 597.7 472.1C598.9 472.1 599.8 467.1 601.0 467.1" stroke="#16ee16" stroke-width="2.00" fill="none" stroke-linejoin="round" stroke-linecap="round"/>
<path d="M16.4 559.8C17.5 559.8 18.2 556.2 19.3 556.2C20.6 556.2 21.7 565.0 23.0 565.0C24.4 565.0 25.4 553.3 26.8 553.3C27.9 553.3 28.8 566.1 29.9 566.1C31.2 566.1 32.2 554.4 33.5 554.4C34.8 554.4 35.9 563.2 37.2 563.2C38.5 563.2 39.5 558.0 40.8 558.0C41.8 558.0 42.5 559.4 43.5 559.4C44.6 559.4 45.5 559.4 46.6 559.4C47.8 559.4 48.7 559.4 49.8 559.4C50.9 559.4 51.8 559.4 53.0 559.4C54.1 559.4 55.0 559.4 56.1 559.4C57.2 559.4 58.1 559.4 59.2 559.4C60.4 559.4 61.3 559.4 62.4 559.4C63.5 559.4 64.4 559.4 65.5 559.4C66.7 559.4 67.6 559.4 68.7 559.4C69.8 559.4 70.7 559.4 71.8 559.4C73.0 559.4 73.9 559.0 75.0 559.0C76.2 559.0 77.2 553.0 78.4 553.0C79.6 553.0 80.4 580.0 81.6 580.0C82.9 580.0 83.9 526.0 85.2 526.0C86.4 526.0 87.4 599.0 88.6 599.0C89.8 599.0 90.8 513.0 92.0 513.0C93.2 513.0 94.2 604.0 95.4 604.0C96.6 604.0 97.6 523.0 98.8 523.0C100.0 523.0 101.0 588.0 102.2 588.0C103.4 588.0 104.4 539.0 105.6 539.0C106.8 539.0 107.6 573.0 108.8 573.0C110.2 573.0 111.2 554.1 112.6 554.1C114.1 554.1 115.1 566.9 116.6 566.9C117.7 566.9 118.6 554.6 119.7 554.6C120.8 554.6 121.6 564.3 122.7 564.3C123.6 564.3 124.4 555.1 125.3 555.1C126.4 555.1 127.3 567.4 128.4 567.4C129.5 567.4 130.3 550.5 131.4 550.5C132.5 550.5 133.4 567.9 134.5 567.9C135.6 567.9 136.4 552.1 137.5 552.1C138.7 552.1 139.6 566.4 140.8 566.4C141.9 566.4 142.6 555.7 143.7 555.7C144.5 555.7 145.2 562.3 146.0 562.3C146.9 562.3 147.7 552.6 148.6 552.6C149.7 552.6 150.5 575.1 151.6 575.1C152.8 575.1 153.7 537.3 154.9 537.3C156.1 537.3 157.0 586.3 158.2 586.3C159.4 586.3 160.4 533.2 161.6 533.2C162.8 533.2 163.6 584.3 164.8 584.3C166.0 584.3 166.8 538.3 168.0 538.3C169.3 538.3 170.2 579.2 171.5 579.2C172.7 579.2 173.6 543.9 174.8 543.9C176.1 543.9 177.1 571.0 178.4 571.0C179.7 571.0 180.8 551.1 182.1 551.1C183.5 551.1 184.6 567.9 186.0 567.9C187.4 567.9 188.4 552.1 189.8 552.1C191.0 552.1 191.8 567.4 193.0 567.4C194.2 567.4 195.0 553.1 196.2 553.1C197.4 553.1 198.3 564.3 199.5 564.3C200.8 564.3 201.7 557.7 203.0 557.7C204.5 557.7 205.6 561.3 207.1 561.3C208.4 561.3 209.4 557.7 210.7 557.7C212.0 557.7 213.0 562.8 214.3 562.8C215.6 562.8 216.6 555.7 217.9 555.7C219.0 555.7 219.8 564.9 220.9 564.9C222.2 564.9 223.2 553.6 224.5 553.6C225.7 553.6 226.6 566.4 227.8 566.4C228.9 566.4 229.7 553.6 230.8 553.6C232.0 553.6 232.8 566.9 234.0 566.9C235.2 566.9 236.1 553.1 237.3 553.1C238.5 553.1 239.3 566.4 240.5 566.4C241.8 566.4 242.9 555.6 244.2 555.6C245.4 555.6 246.4 562.2 247.6 562.2C248.9 562.2 249.8 558.1 251.1 558.1C252.6 558.1 253.7 560.7 255.2 560.7C256.7 560.7 257.8 557.6 259.3 557.6C260.4 557.6 261.3 562.2 262.4 562.2C263.7 562.2 264.7 554.5 266.0 554.5C267.3 554.5 268.2 566.3 269.5 566.3C270.7 566.3 271.6 551.0 272.8 551.0C274.0 551.0 275.0 566.8 276.2 566.8C277.4 566.8 278.3 553.0 279.5 553.0C280.6 553.0 281.5 565.8 282.6 565.8C283.7 565.8 284.6 551.0 285.7 551.0C286.9 551.0 287.7 569.3 288.9 569.3C290.0 569.3 290.9 550.4 292.0 550.4C293.1 550.4 294.0 566.8 295.1 566.8C296.1 566.8 296.9 555.0 297.9 555.0C299.0 555.0 299.9 564.7 301.0 564.7C302.1 564.7 303.0 554.5 304.1 554.5C305.3 554.5 306.1 564.3 307.3 564.3C308.4 564.3 309.3 555.5 310.4 555.5C311.5 555.5 312.4 561.8 313.5 561.8C314.7 561.8 315.6 556.5 316.7 556.5C317.9 556.5 318.8 561.4 320.0 561.4C321.2 561.4 322.0 557.4 323.2 557.4C324.4 557.4 325.3 561.4 326.5 561.4C327.6 561.4 328.5 557.4 329.7 557.4C330.9 557.4 331.7 563.3 332.9 563.3C334.1 563.3 335.0 553.4 336.2 553.4C337.3 553.4 338.2 565.4 339.4 565.4C340.6 565.4 341.5 553.4 342.6 553.4C343.8 553.4 344.7 565.4 345.9 565.4C347.1 565.4 347.9 553.4 349.1 553.4C350.3 553.4 351.2 565.4 352.4 565.4C353.5 565.4 354.4 554.6 355.6 554.6C356.8 554.6 357.7 561.4 358.8 561.4C360.0 561.4 360.9 557.4 362.1 557.4C363.2 557.4 364.1 561.4 365.3 561.4C366.5 561.4 367.4 557.4 368.5 557.4C369.7 557.4 370.6 565.4 371.8 565.4C373.0 565.4 373.8 553.4 375.0 553.4C376.2 553.4 377.1 565.4 378.3 565.4C379.4 565.4 380.3 553.4 381.5 553.4C382.7 553.4 383.6 565.4 384.7 565.4C385.9 565.4 386.8 553.4 388.0 553.4C389.1 553.4 390.0 565.4 391.2 565.4C392.4 565.4 393.3 553.4 394.4 553.4C395.6 553.4 396.5 565.4 397.7 565.4C398.9 565.4 399.7 553.4 400.9 553.4C402.1 553.4 403.0 565.4 404.2 565.4C405.3 565.4 406.2 553.4 407.4 553.4C408.6 553.4 409.5 565.4 410.6 565.4C411.8 565.4 412.7 553.4 413.9 553.4C415.1 553.4 415.9 565.4 417.1 565.4C418.3 565.4 419.2 553.4 420.3 553.4C421.5 553.4 422.4 565.4 423.6 565.4C424.8 565.4 425.6 557.4 426.8 557.4C428.0 557.4 428.9 561.4 430.1 561.4C431.2 561.4 432.1 551.4 433.3 551.4C434.5 551.4 435.4 567.4 436.5 567.4C437.7 567.4 438.6 551.4 439.8 551.4C441.0 551.4 441.8 567.4 443.0 567.4C444.2 567.4 445.1 551.4 446.2 551.4C447.4 551.4 448.3 566.1 449.5 566.1C450.7 566.1 451.5 556.9 452.7 556.9C453.9 556.9 454.8 561.9 456.0 561.9C457.1 561.9 458.0 556.9 459.2 556.9C460.4 556.9 461.3 562.0 462.4 562.0C463.6 562.0 464.5 556.8 465.7 556.8C466.9 556.8 467.7 562.0 468.9 562.0C470.1 562.0 471.0 556.8 472.2 556.8C473.3 556.8 474.2 562.0 475.4 562.0C476.6 562.0 477.4 556.7 478.6 556.7C479.8 556.7 480.7 562.1 481.9 562.1C483.0 562.1 483.9 556.7 485.1 556.7C486.3 556.7 487.2 562.1 488.3 562.1C489.5 562.1 490.4 556.7 491.6 556.7C492.8 556.7 493.6 562.2 494.8 562.2C496.0 562.2 496.9 556.6 498.1 556.6C499.2 556.6 500.1 562.2 501.3 562.2C502.5 562.2 503.4 556.6 504.5 556.6C505.7 556.6 506.6 562.2 507.8 562.2C508.9 562.2 509.8 556.5 511.0 556.5C512.2 556.5 513.1 562.3 514.2 562.3C515.4 562.3 516.3 556.5 517.5 556.5C518.7 556.5 519.5 562.3 520.7 562.3C521.9 562.3 522.8 556.5 524.0 556.5C525.1 556.5 526.0 562.4 527.2 562.4C528.4 562.4 529.3 556.4 530.4 556.4C531.6 556.4 532.5 562.4 533.7 562.4C534.8 562.4 535.7 554.5 536.9 554.5C538.1 554.5 539.0 564.4 540.1 564.4C541.3 564.4 542.2 554.4 543.4 554.4C544.6 554.4 545.4 564.4 546.6 564.4C547.8 564.4 548.7 554.4 549.9 554.4C551.0 554.4 551.9 564.4 553.1 564.4C554.3 564.4 555.2 557.1 556.3 557.1C557.5 557.1 558.4 560.4 559.6 560.4C560.8 560.4 561.6 558.4 562.8 558.4C564.0 558.4 564.9 562.9 566.0 562.9C567.2 562.9 568.1 555.9 569.3 555.9C570.5 555.9 571.3 562.9 572.5 562.9C573.7 562.9 574.6 555.9 575.8 555.9C576.9 555.9 577.8 559.4 579.0 559.4" stroke="#e610d8" stroke-width="2.00" fill="none" stroke-linejoin="round" stroke-linecap="round"/>
<polygon points="176.8,37.5 246.3,37.5 126.3,606.2 56.3,606.2" fill="rgb(151,3,11)" fill-opacity="0.25"/>
<polygon points="176.8,37.5 246.3,37.5 126.3,606.2 56.3,606.2" fill="none" stroke="#aa0000" stroke-width="2.3" stroke-dasharray="1.8 4.55" stroke-linecap="round" stroke-linejoin="round"/>
<line x1="90.4" y1="607.5" x2="75.2" y2="679" stroke="#b80000" stroke-width="2.7" stroke-dasharray="2.4 5.6" stroke-linecap="round"/>
<polygon points="65.9,674.3 70.4,691.7 83.5,678 75,680" fill="#c00000"/>
<path d="M16.0 757.5C18.0 757.8 24.3 758.6 28.0 759.0C31.7 759.4 35.7 760.2 38.0 760.0C40.3 759.8 40.8 759.7 42.0 758.0C43.2 756.3 44.0 752.8 45.0 750.0C46.0 747.2 46.7 746.2 48.0 741.0C49.3 735.8 51.3 725.3 53.0 719.0C54.7 712.7 56.2 707.0 58.0 703.0C59.8 699.0 62.2 696.5 64.0 695.0C65.8 693.5 67.3 693.8 69.0 694.0C70.7 694.2 72.5 694.8 74.0 696.0C75.5 697.2 76.5 697.8 78.0 701.0C79.5 704.2 81.3 709.3 83.0 715.0C84.7 720.7 86.6 729.7 88.0 735.0C89.4 740.3 90.4 743.7 91.5 747.0C92.6 750.3 93.4 754.4 94.6 755.0C95.8 755.6 97.2 752.5 98.5 750.5C99.8 748.5 101.5 745.9 102.7 743.0C104.0 740.1 105.0 736.5 106.0 733.0C107.0 729.5 107.7 727.8 109.0 722.0C110.3 716.2 112.5 704.3 114.0 698.0C115.5 691.7 116.5 687.7 118.0 684.0C119.5 680.3 121.3 677.7 123.0 676.0C124.7 674.3 126.3 673.4 128.0 673.6C129.7 673.8 131.2 675.3 133.0 677.0C134.8 678.7 137.3 680.2 139.0 684.0C140.7 687.8 141.8 695.0 143.0 700.0C144.2 705.0 144.8 709.0 146.0 714.0C147.2 719.0 148.7 726.0 150.0 730.0C151.3 734.0 152.3 735.7 154.0 738.0C155.7 740.3 158.3 742.7 160.0 744.0C161.7 745.3 162.3 745.9 164.0 746.0C165.7 746.1 167.5 744.6 170.0 744.4C172.5 744.2 176.7 744.4 179.0 745.0C181.3 745.6 181.8 746.7 184.0 748.0C186.2 749.3 189.3 752.7 192.0 753.0C194.7 753.3 197.3 750.8 200.0 750.0C202.7 749.2 204.7 748.2 208.0 748.0C211.3 747.8 216.7 748.3 220.0 749.0C223.3 749.7 225.0 751.9 228.0 752.2C231.0 752.5 234.7 751.5 238.0 750.6C241.3 749.7 245.0 747.3 248.0 746.6C251.0 745.9 253.3 746.2 256.0 746.6C258.7 747.0 261.3 748.2 264.0 749.0C266.7 749.8 269.0 751.9 272.0 751.6C275.0 751.3 279.0 747.7 282.0 747.0C285.0 746.3 287.8 747.2 290.0 747.6C292.2 748.0 292.7 749.8 295.0 749.4C297.3 749.0 301.5 745.2 304.0 745.0C306.5 744.8 308.0 747.1 310.0 748.0C312.0 748.9 313.3 749.9 316.0 750.6C318.7 751.3 323.3 751.3 326.0 752.0C328.7 752.7 330.0 754.2 332.0 755.0C334.0 755.8 336.0 757.1 338.0 757.0C340.0 756.9 342.0 755.3 344.0 754.4C346.0 753.5 347.0 752.3 350.0 751.6C353.0 750.9 358.3 750.1 362.0 750.0C365.7 749.9 368.3 750.3 372.0 751.0C375.7 751.7 380.0 753.2 384.0 754.0C388.0 754.8 391.7 755.5 396.0 756.0C400.3 756.5 407.7 756.7 410.0 756.8" stroke="#1c6cbc" stroke-width="3" fill="none" stroke-linejoin="round"/>
<circle cx="70.8" cy="694.2" r="4.4" fill="#c00000"/>
<line x1="148.5" y1="605.9" x2="214" y2="605.9" stroke="#c00000" stroke-width="4.7" stroke-linecap="round"/>
<polygon points="211,595.5 233.3,606 211,616.5 216,606" fill="#c00000"/>
<line x1="14.2" y1="680" x2="14.2" y2="761" stroke="#000" stroke-width="3.6"/>
<polygon points="14.2,663.4 2.4,684.6 14.2,681 26,684.6" fill="#000"/>
<line x1="12.4" y1="759.5" x2="548" y2="759.5" stroke="#000" stroke-width="3.8"/>
<polygon points="566,759.5 544.4,749 548.5,759.5 544.4,770" fill="#000"/>
<line x1="142" y1="754" x2="142" y2="758" stroke="#000" stroke-width="1.2"/>
<line x1="278" y1="754" x2="278" y2="758" stroke="#000" stroke-width="1.2"/>
<line x1="416" y1="754" x2="416" y2="758" stroke="#000" stroke-width="1.2"/>
<text x="169.5" y="20.5" style="font-size:26.5px">Window</text>
<text x="94.6" y="655.6">SVD</text>
<text x="236.4" y="632.8">Sliding</text>
<text x="501.5" y="744.6">Time step</text>
<text x="19.5" y="799.2" style="font-size:25.8px">Damage-related information</text>
</svg>
</body></html>
